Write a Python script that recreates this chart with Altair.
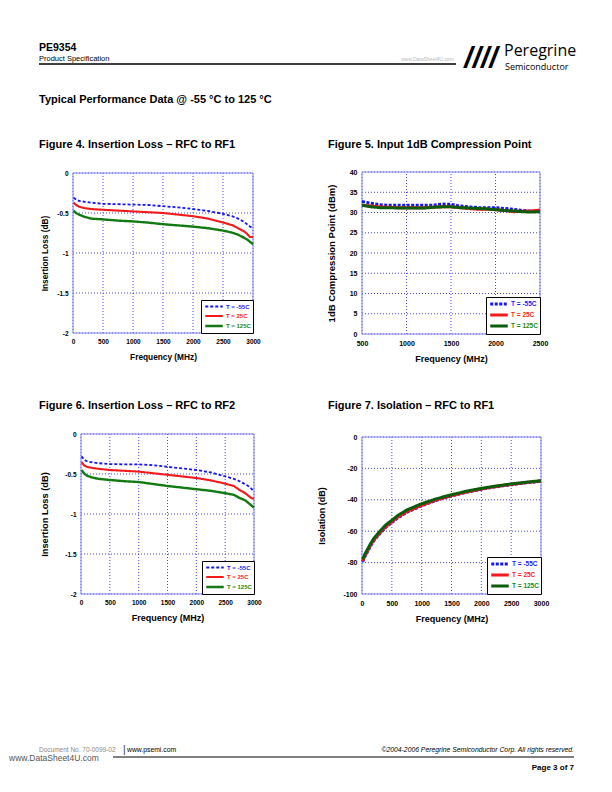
import altair as alt
import pandas as pd

FONT = "Liberation Sans"
SERIES = ["T = -55C", "T = 25C", "T = 125C"]

# ---------------- text content ----------------
PART_NO = "PE9354"
DOC_KIND = "Product Specification"
LOGO_MARK = "////"
LOGO_1 = "Peregrine"
LOGO_2 = "Semiconductor"
WATERMARK = "www.DataSheet4U.com"
SECTION = "Typical Performance Data @ -55 °C to 125 °C"
TITLE_4 = "Figure 4. Insertion Loss – RFC to RF1"
TITLE_5 = "Figure 5. Input 1dB Compression Point"
TITLE_6 = "Figure 6. Insertion Loss – RFC to RF2"
TITLE_7 = "Figure 7. Isolation – RFC to RF1"
FOOT_DOC = "Document No. 70-0099-02"
FOOT_BAR = "|"
FOOT_WEB = "www.psemi.com"
FOOT_COPY = "©2004-2006 Peregrine Semiconductor Corp.  All rights reserved."
FOOT_PAGE = "Page  3 of 7"

X_TITLE = "Frequency (MHz)"
Y_TITLE_IL = "Insertion Loss (dB)"
Y_TITLE_P1 = "1dB Compression Point (dBm)"
Y_TITLE_ISO = "Isolation (dB)"

# ---------------- Figure 4: insertion loss RFC-RF1 ----------------
F4_FREQ = [10, 50, 100, 200, 300, 500, 750, 1000, 1250, 1500, 1750, 2000,
           2250, 2500, 2650, 2750, 2850, 2900, 2950, 3000]
F4_M55 = [-0.31, -0.33, -0.35, -0.36, -0.37, -0.385, -0.39, -0.395, -0.40, -0.415,
          -0.43, -0.45, -0.475, -0.51, -0.54, -0.57, -0.61, -0.64, -0.67, -0.69]
F4_25 = [-0.37, -0.40, -0.42, -0.44, -0.45, -0.46, -0.47, -0.48, -0.49, -0.50,
         -0.52, -0.54, -0.57, -0.62, -0.65, -0.69, -0.73, -0.76, -0.80, -0.80]
F4_125 = [-0.47, -0.50, -0.52, -0.55, -0.57, -0.58, -0.595, -0.605, -0.62, -0.64,
          -0.655, -0.67, -0.69, -0.72, -0.745, -0.77, -0.81, -0.83, -0.86, -0.89]

# ---------------- Figure 5: input P1dB ----------------
F5_FREQ = [500, 600, 700, 800, 900, 1000, 1100, 1200, 1300, 1400, 1500, 1600,
           1700, 1800, 1900, 2000, 2100, 2200, 2300, 2400, 2500]
F5_M55 = [32.7, 32.3, 31.9, 31.8, 31.8, 31.8, 31.8, 31.8, 31.8, 32.1, 32.0, 31.6,
          31.4, 31.2, 31.2, 31.2, 31.0, 30.8, 30.5, 30.3, 30.2]
F5_25 = [31.8, 31.6, 31.4, 31.3, 31.2, 31.2, 31.2, 31.2, 31.3, 31.4, 31.4, 31.2,
         31.0, 30.8, 30.8, 30.7, 30.5, 30.2, 30.3, 30.4, 30.6]
F5_125 = [31.8, 31.4, 31.2, 31.2, 31.1, 31.1, 31.1, 31.1, 31.3, 31.4, 31.4, 31.2,
          31.1, 31.0, 30.9, 30.7, 30.5, 30.4, 30.2, 30.1, 30.2]

# ---------------- Figure 6: insertion loss RFC-RF2 ----------------
F6_FREQ = [10, 50, 100, 200, 300, 500, 750, 1000, 1250, 1500, 1750, 2000,
           2250, 2500, 2650, 2750, 2850, 2900, 2950, 3000]
F6_M55 = [-0.28, -0.32, -0.34, -0.355, -0.365, -0.375, -0.38, -0.38, -0.39, -0.41,
          -0.43, -0.45, -0.48, -0.53, -0.56, -0.59, -0.63, -0.65, -0.68, -0.72]
F6_25 = [-0.35, -0.39, -0.41, -0.425, -0.435, -0.45, -0.46, -0.47, -0.49, -0.51,
         -0.53, -0.55, -0.58, -0.62, -0.65, -0.70, -0.74, -0.77, -0.80, -0.81]
F6_125 = [-0.45, -0.49, -0.52, -0.545, -0.56, -0.575, -0.59, -0.60, -0.625, -0.65,
          -0.67, -0.69, -0.71, -0.74, -0.76, -0.80, -0.83, -0.86, -0.89, -0.92]

# ---------------- Figure 7: isolation RFC-RF1 ----------------
F7_FREQ = [10, 50, 100, 150, 200, 300, 400, 500, 600, 750, 1000, 1250, 1500,
           1750, 2000, 2250, 2500, 2750, 3000]
F7_M55 = [-79.5, -76, -72.5, -69, -66, -61.5, -57.5, -54.5, -51.5, -48, -43.8,
          -40.3, -37.5, -35.2, -33.3, -31.7, -30.4, -29.2, -28.2]
F7_25 = [-79, -75.5, -72, -68.5, -65.5, -61, -57, -54, -51, -47.5, -43.5,
         -40, -37.3, -35, -33.1, -31.5, -30.2, -29, -28]
F7_125 = [-78, -74.5, -71, -67.5, -64.5, -60, -56, -53, -50, -46.5, -42.5,
          -39.3, -36.8, -34.5, -32.7, -31.2, -29.9, -28.8, -27.8]

# axis tick values
X_TICKS_3000 = [0, 500, 1000, 1500, 2000, 2500, 3000]
X_TICKS_2500 = [500, 1000, 1500, 2000, 2500]
Y_TICKS_IL = [-2, -1.5, -1, -0.5, 0]
Y_TICKS_P1 = [0, 5, 10, 15, 20, 25, 30, 35, 40]
Y_TICKS_ISO = [-100, -80, -60, -40, -20, 0]

# ---------------- styles ----------------
FRAME = "#8585ee"
GRID = "#4646ff"
BLUE, RED, GREEN = "#1414f5", "#f21a1a", "#137a13"
GREEN_DARK = "#0b5c0b"
LABEL_COLOR_EXPR = ("datum.label == 'T = -55C' ? '#1a1aff' : "
                    "(datum.label == 'T = 25C' ? '#ff1a1a' : '#1a8a1a')")
LEG_SYMBOL = "M-2.5,0H2.5"
HIDDEN = alt.ViewBackground(stroke="transparent")

dummy = pd.DataFrame({"k": [0]})


def long_df(freq, vals):
    rows = []
    for name, series in zip(SERIES, vals):
        for f, v in zip(freq, series):
            rows.append({"f": f, "v": v, "s": name})
    return pd.DataFrame(rows)


def plot(df, xdom, xticks, ydom, yticks, ytitle, w, h, pad_l, pad_t, colors, dashes,
         widths, lab_fs, xt_fs, yt_fs, yt_pad, leg_fs):
    W, H = pad_l + w, pad_t + h
    xs = alt.Scale(domain=xdom, range=[pad_l, W], nice=False, zero=False)
    ys = alt.Scale(domain=ydom, range=[H, pad_t], nice=False, zero=False)
    common = dict(grid=False, domain=False, ticks=False, labelFont=FONT,
                  labelFontSize=lab_fs, labelFontWeight="bold", labelColor="black",
                  labelPadding=5, labelFlush=False, labelOverlap=False,
                  labelExpr="datum.value + ''", titleFont=FONT, titleFontWeight="bold",
                  titleColor="black")
    xax = alt.Axis(values=xticks, title=X_TITLE, titleFontSize=xt_fs, titlePadding=8,
                   titleX=pad_l + w / 2, **common)
    yax = alt.Axis(values=yticks, title=ytitle, titleFontSize=yt_fs, titlePadding=yt_pad,
                   offset=-pad_l, titleY=pad_t + h / 2, **common)

    legend = alt.Legend(
        title=None, orient="bottom-right", offset=0, fillColor="white",
        strokeColor="black", padding=2, symbolType=LEG_SYMBOL, symbolSize=49,
        symbolOffset=6, labelFont=FONT, labelFontSize=leg_fs, labelFontWeight="bold",
        labelColor=alt.ExprRef(LABEL_COLOR_EXPR), labelOffset=7, rowPadding=-2,
    )

    gx = pd.DataFrame({"f": xticks})
    gy = pd.DataFrame({"v": yticks})
    vgrid = alt.Chart(gx).mark_rule(color=GRID, strokeDash=[1, 2], strokeWidth=1).encode(
        x=alt.X("f:Q", scale=xs, axis=xax),
        y=alt.Y(datum=ydom[0], type="quantitative", scale=ys, axis=yax),
        y2=alt.Y2(datum=ydom[1]),
    )
    hgrid = alt.Chart(gy).mark_rule(color=GRID, strokeDash=[1, 2], strokeWidth=1).encode(
        y=alt.Y("v:Q", scale=ys, axis=yax),
        x=alt.X(datum=xdom[0], type="quantitative", scale=xs, axis=xax),
        x2=alt.X2(datum=xdom[1]),
    )
    frame = alt.Chart(dummy).mark_rect(fill="transparent", stroke=FRAME, strokeWidth=1).encode(
        x=alt.X(datum=xdom[0], type="quantitative", scale=xs, axis=xax),
        x2=alt.X2(datum=xdom[1]),
        y=alt.Y(datum=ydom[0], type="quantitative", scale=ys, axis=yax),
        y2=alt.Y2(datum=ydom[1]),
    )
    lines = alt.Chart(df).mark_line().encode(
        x=alt.X("f:Q", scale=xs, axis=xax),
        y=alt.Y("v:Q", scale=ys, axis=yax),
        color=alt.Color("s:N", scale=alt.Scale(domain=SERIES, range=colors), legend=legend),
        strokeDash=alt.StrokeDash("s:N", scale=alt.Scale(domain=SERIES, range=dashes), legend=legend),
        strokeWidth=alt.StrokeWidth("s:N", scale=alt.Scale(domain=SERIES, range=widths), legend=legend),
    )
    return alt.layer(vgrid, hgrid, frame, lines).properties(width=W, height=H, view=HIDDEN)


def txt(s, x, y, size, weight="normal", color="black", align="left",
        style="normal", font=FONT, opacity=1):
    return alt.Chart(dummy).mark_text(
        text=s, align=align, baseline="alphabetic", fontSize=size, fontWeight=weight,
        color=color, font=font, fontStyle=style, opacity=opacity,
    ).encode(x=alt.value(x), y=alt.value(y))


def hline(x1, x2, y, w=1.0, color="black"):
    return alt.Chart(dummy).mark_rule(color=color, strokeWidth=w).encode(
        x=alt.value(x1), x2=alt.value(x2), y=alt.value(y))


def blank(w, h=1):
    # an empty spacer cell: an invisible zero-size point
    return alt.Chart(dummy).mark_point(opacity=0, size=0, strokeWidth=0).encode(
        x=alt.value(0), y=alt.value(0)
    ).properties(width=w, height=h, view=HIDDEN)


header = alt.layer(
    txt(PART_NO, 30, 42, 10.5, "bold"),
    txt(DOC_KIND, 30, 52, 7.5),
    hline(30, 447, 55, 1.3),
    txt(WATERMARK, 392, 52, 5, color="#b8b8b8"),
    txt(LOGO_MARK, 472, 59, 30, "bold", align="center", style="italic"),
    txt(LOGO_1, 495, 46.5, 16, font="Open Sans"),
    txt(LOGO_2, 496, 61, 9, font="Open Sans"),
    txt(SECTION, 30, 94, 11, "bold"),
    txt(TITLE_4, 30, 139, 11, "bold"),
    txt(TITLE_5, 319, 139, 11, "bold"),
).properties(width=64, height=163, view=HIDDEN)

middle = alt.layer(
    txt(TITLE_6, 30, 75, 11, "bold"),
    txt(TITLE_7, 319, 75, 11, "bold"),
).properties(width=64, height=100, view=HIDDEN)

footer = alt.layer(
    txt(FOOT_DOC, 30, 157.5, 6.5, color="#8a8a8a"),
    txt(FOOT_BAR, 114, 159, 10, color="#333333"),
    txt(FOOT_WEB, 118, 157.5, 6.8),
    txt(FOOT_COPY, 565, 157.5, 6.8, style="italic", align="right"),
    hline(104, 565, 163, 1.0),
    txt(WATERMARK, 0, 167, 8.5, color="#555555"),
    txt(FOOT_PAGE, 565, 176, 8, "bold", align="right"),
).properties(width=64, height=191, view=HIDDEN)

fig4 = plot(long_df(F4_FREQ, [F4_M55, F4_25, F4_125]), [0, 3000], X_TICKS_3000,
            [-2, 0], Y_TICKS_IL, Y_TITLE_IL, 180, 160, 0, 1,
            [BLUE, RED, GREEN], [[3, 2], [1, 0], [1, 0]], [1.8, 2.4, 1.3],
            6.5, 8.3, 8.3, 7, 6)
fig5 = plot(long_df(F5_FREQ, [F5_M55, F5_25, F5_125]), [500, 2500], X_TICKS_2500,
            [0, 40], Y_TICKS_P1, Y_TITLE_P1, 178, 162, 0, 0,
            [BLUE, RED, GREEN_DARK], [[3, 1.5], [1, 0], [1, 0]], [3, 3, 3],
            7, 9, 9.5, 13, 6.5)
fig6 = plot(long_df(F6_FREQ, [F6_M55, F6_25, F6_125]), [0, 3000], X_TICKS_3000,
            [-2, 0], Y_TICKS_IL, Y_TITLE_IL, 173, 160, 8, 0,
            [BLUE, RED, GREEN], [[3, 2], [1, 0], [1, 0]], [1.8, 2.4, 1.3],
            6.5, 9, 9.3, 15, 6)
fig7 = plot(long_df(F7_FREQ, [F7_M55, F7_25, F7_125]), [0, 3000], X_TICKS_3000,
            [-100, 0], Y_TICKS_ISO, Y_TITLE_ISO, 179, 157, 0, 3,
            [BLUE, RED, GREEN_DARK], [[3, 1.5], [1, 0], [1, 0]], [3, 3, 3],
            7, 9, 9, 16, 6.5)

# aligned grid: column 0 = left margin, 1 = left plots, 2 = gutter, 3 = right plots
cells = [
    header, blank(1), blank(1), blank(1),
    blank(64), fig4, blank(108), fig5,
    middle, blank(1), blank(1), blank(1),
    blank(64), fig6, blank(108), fig7,
    footer, blank(1), blank(1), blank(1),
]

IND = dict(color="independent", strokeDash="independent", strokeWidth="independent")

chart = alt.concat(
    *cells, columns=4, spacing=0, bounds="flush", align="each",
).resolve_scale(**IND).resolve_legend(**IND).properties(
    padding=0
).configure(font=FONT).configure_view(stroke="transparent")

chart.save("out.html", embed_options={"renderer": "svg", "actions": False})
